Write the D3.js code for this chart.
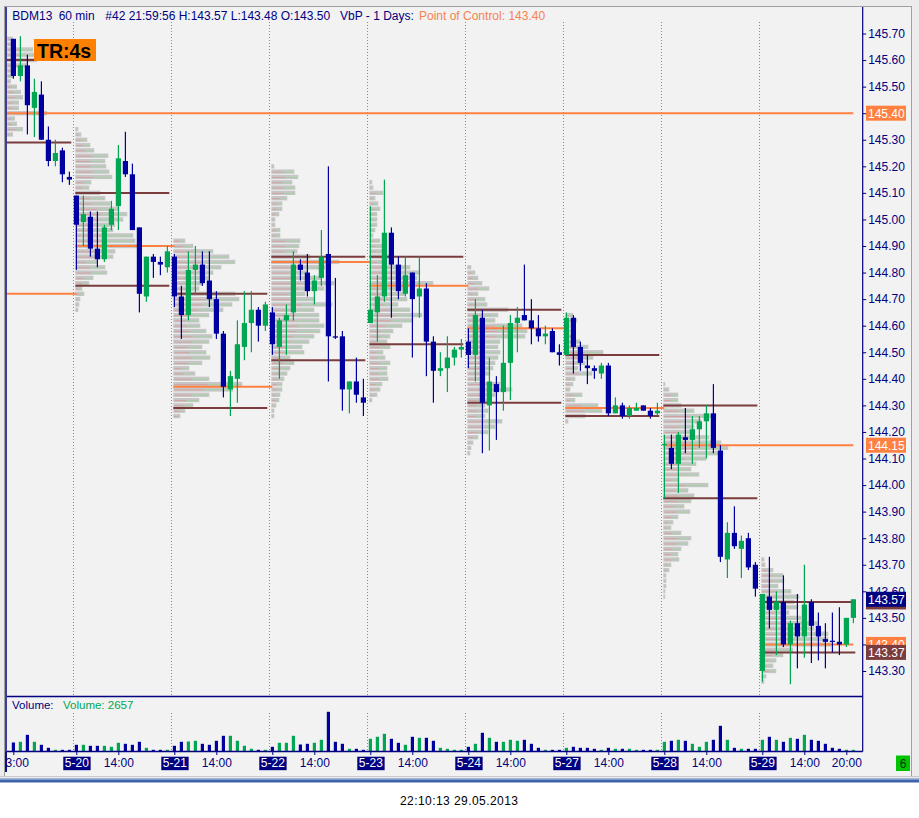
<!DOCTYPE html>
<html>
<head>
<meta charset="utf-8">
<script src="https://cdn.jsdelivr.net/npm/d3@7"></script>
<style>
body{margin:0;background:#fff;}
svg{display:block;font-family:"Liberation Sans",Arial,sans-serif;}
</style>
</head>
<body>
<svg id="chart" width="919" height="818"></svg>
<script>
//BDM13 60 min + volume profile
var dayLabels = ["5-17","5-20","5-21","5-22","5-23","5-24","5-27","5-28","5-29"];
var dayStarts = [-5, 9, 23, 37, 51, 65, 79, 93, 107]; // bar index of 08:00

// value area high / point of control / value area low, per day
var vahs = [145.60, 145.10, 144.72, 144.86, 144.86, 144.66, 144.49, 144.30, 143.56];
var pocs = [145.40, 144.90, 144.37, 144.84, 144.75, 144.59, 144.29, 144.15, 143.40];
var vals = [145.29, 144.75, 144.29, 144.47, 144.53, 144.31, 144.26, 143.95, 143.37];
var pocEnds = [120, 23, 37, 51, 65, 79, 93, 120, 120];
var priorPoc = [144.72, -5, 9];

var priceTicks = [143.30,143.40,143.50,143.60,143.70,143.80,143.90,144.00,144.10,144.20,144.30,144.40,144.50,
	144.60,144.70,144.80,144.90,145.00,145.10,145.20,145.30,145.40,145.50,145.60,145.70];
var hourTicks = [[0,"13:00"],[15,"14:00"],[29,"14:00"],[43,"14:00"],[57,"14:00"],[71,"14:00"],[85,"14:00"],[99,"14:00"],[113,"14:00"],[119,"20:00"]];

// open, high, low, close
var ohlc = [
	// 5-17
	[145.68,145.68,145.53,145.54],[145.54,145.69,145.52,145.58],[145.58,145.62,145.32,145.43],[145.42,145.53,145.31,145.48],[145.47,145.52,145.30,145.30],[145.30,145.35,145.20,145.22],[145.22,145.30,145.20,145.25],[145.26,145.27,145.14,145.17],[145.16,145.18,145.13,145.15],
	// 5-20
	[145.09,145.09,144.81,144.98],[144.99,145.09,144.90,145.02],[145.01,145.03,144.86,144.89],[144.89,145.03,144.82,144.85],[144.85,144.98,144.84,144.97],[144.98,145.07,144.96,145.04],[145.05,145.28,144.96,145.23],[145.22,145.33,145.16,145.17],[145.17,145.21,144.96,144.96],[144.97,144.97,144.65,144.72],[144.71,144.86,144.69,144.86],[144.86,144.87,144.78,144.84],[144.84,144.86,144.79,144.83],[144.82,144.90,144.80,144.88],
	// 5-21
	[144.86,144.87,144.67,144.71],[144.71,144.75,144.55,144.64],[144.64,144.88,144.62,144.81],[144.81,144.90,144.72,144.83],[144.83,144.88,144.75,144.76],[144.77,144.88,144.67,144.70],[144.70,144.73,144.55,144.57],[144.57,144.58,144.33,144.37],[144.36,144.43,144.26,144.41],[144.40,144.62,144.31,144.53],[144.52,144.73,144.47,144.61],[144.61,144.73,144.50,144.66],[144.66,144.67,144.54,144.60],[144.60,144.69,144.58,144.68],
	// 5-22
	[144.65,144.67,144.49,144.53],[144.52,144.63,144.40,144.62],[144.62,144.68,144.49,144.64],[144.65,144.88,144.62,144.83],[144.83,144.85,144.77,144.81],[144.80,144.87,144.71,144.73],[144.73,144.79,144.68,144.77],[144.78,144.96,144.75,144.86],[144.87,145.20,144.39,144.56],[144.56,144.78,144.55,144.555],[144.56,144.58,144.28,144.36],[144.36,144.39,144.27,144.39],[144.39,144.48,144.31,144.34],[144.33,144.40,144.26,144.31],
	// 5-23
	[144.61,145.05,144.61,144.66],[144.65,144.79,144.54,144.71],[144.71,145.15,144.69,144.95],[144.95,144.97,144.63,144.83],[144.83,144.86,144.70,144.73],[144.72,144.86,144.71,144.79],[144.80,144.80,144.48,144.70],[144.71,144.86,144.63,144.74],[144.74,144.76,144.41,144.54],[144.54,144.56,144.31,144.43],[144.43,144.50,144.41,144.44],[144.44,144.56,144.35,144.48],[144.48,144.52,144.45,144.51],[144.51,144.55,144.48,144.52],
	// 5-24
	[144.54,144.59,144.44,144.49],[144.49,144.70,144.39,144.64],[144.63,144.66,144.12,144.31],[144.30,144.48,144.13,144.39],[144.38,144.41,144.17,144.35],[144.35,144.60,144.28,144.46],[144.46,144.64,144.32,144.61],[144.61,144.67,144.50,144.63],[144.64,144.83,144.62,144.62],[144.62,144.70,144.53,144.59],[144.59,144.64,144.54,144.56],[144.56,144.60,144.53,144.57],[144.58,144.59,144.50,144.50],[144.50,144.53,144.45,144.49],
	// 5-27
	[144.49,144.65,144.49,144.63],[144.63,144.64,144.42,144.52],[144.52,144.54,144.43,144.46],[144.45,144.49,144.38,144.44],[144.44,144.45,144.40,144.43],[144.42,144.46,144.40,144.45],[144.45,144.46,144.26,144.27],[144.27,144.33,144.27,144.30],[144.30,144.31,144.25,144.26],[144.26,144.30,144.25,144.29],[144.28,144.31,144.28,144.29],[144.30,144.30,144.28,144.28],[144.28,144.29,144.25,144.26],[144.27,144.31,144.26,144.28],
	// 5-28
	[144.15,144.19,143.95,144.155],[144.14,144.19,144.06,144.08],[144.08,144.20,143.97,144.19],[144.18,144.29,144.12,144.17],[144.17,144.26,144.08,144.21],[144.21,144.26,144.14,144.24],[144.24,144.30,144.10,144.27],[144.27,144.38,144.12,144.14],[144.13,144.15,143.71,143.73],[143.72,143.86,143.65,143.82],[143.82,143.92,143.76,143.77],[143.76,143.81,143.65,143.79],[143.80,143.82,143.68,143.69],[143.70,143.71,143.58,143.61],
	// 5-29
	[143.30,143.59,143.26,143.59],[143.58,143.73,143.46,143.53],[143.53,143.60,143.36,143.56],[143.56,143.66,143.39,143.40],[143.40,143.49,143.25,143.48],[143.48,143.59,143.31,143.43],[143.43,143.70,143.35,143.55],[143.56,143.57,143.33,143.47],[143.47,143.52,143.34,143.43],[143.42,143.48,143.31,143.41],[143.414,143.52,143.37,143.41],[143.41,143.54,143.36,143.40],[143.40,143.50,143.39,143.50],[143.50,143.57,143.48,143.57]
];

var volumes = [
	14040,15130,26050,15130,10450,5770,2650,2650,2650,
	10450,10450,8890,8890,8890,7330,13570,12010,10450,15130,5770,2650,2650,2650,
	8890,15130,15600,16690,12010,10450,16690,24490,24490,16690,8890,4210,2650,2650,
	7330,13570,13570,24490,10920,12010,13570,18250,61930,15130,12010,4210,4210,2650,
	19810,22930,27610,19810,13570,10450,22930,21370,21370,16690,5770,4210,2650,2650,
	7330,12010,29170,21370,15130,15130,18250,16690,18250,12010,5770,2650,2650,2650,
	5770,7330,5770,5770,4210,2650,5770,4210,4210,4210,2650,2650,2650,2650,
	15130,16690,18250,16690,12010,7330,15130,18250,40090,18250,5770,4210,4210,4210,
	18250,22930,18250,15130,21370,19810,26050,18250,16690,12010,5770,4210,2650,2657
];

// volume at price, [price, volume]
var prof0517 = [[145.68,6],[145.66,8],[145.64,26],[145.62,28],[145.60,30],[145.58,20],[145.56,8],[145.54,6],[145.52,4],[145.50,10],[145.48,14],[145.46,16],[145.44,12],[145.42,12],[145.40,40],[145.38,8],[145.36,10],[145.34,16],[145.32,6]];
var prof0520 = [[145.34,3],[145.32,6],[145.30,12],[145.28,15],[145.26,19],[145.24,33],[145.22,30],[145.20,31],[145.18,34],[145.16,37],[145.14,16],[145.12,14],[145.10,25],[145.08,30],[145.06,35],[145.04,44],[145.02,52],[145.00,48],[144.98,40],[144.96,38],[144.94,58],[144.92,60],[144.90,62],[144.88,40],[144.86,38],[144.84,22],[144.82,30],[144.80,32],[144.78,18],[144.76,14],[144.74,7],[144.72,9],[144.70,5],[144.68,4],[144.66,3]];
var prof0521 = [[144.92,12],[144.90,20],[144.88,40],[144.86,56],[144.84,62],[144.82,48],[144.80,40],[144.78,36],[144.76,29],[144.74,26],[144.72,62],[144.70,66],[144.68,59],[144.66,50],[144.64,36],[144.62,26],[144.60,27],[144.58,33],[144.56,39],[144.54,36],[144.52,29],[144.50,33],[144.48,37],[144.46,29],[144.44,16],[144.42,22],[144.40,36],[144.38,69],[144.36,60],[144.34,36],[144.32,26],[144.30,20],[144.28,12],[144.26,7]];
var prof0522 = [[145.20,3],[145.18,23],[145.16,27],[145.14,21],[145.12,24],[145.10,24],[145.08,16],[145.06,11],[145.04,11],[145.02,8],[145.00,4],[144.98,4],[144.96,9],[144.94,9],[144.92,29],[144.90,28],[144.88,26],[144.86,39],[144.84,68],[144.82,54],[144.80,36],[144.78,50],[144.76,63],[144.74,53],[144.72,34],[144.70,43],[144.68,61],[144.66,43],[144.64,48],[144.62,48],[144.60,53],[144.58,49],[144.56,43],[144.54,38],[144.52,31],[144.50,33],[144.48,19],[144.46,23],[144.44,19],[144.42,16],[144.40,13],[144.38,11],[144.36,11],[144.34,9],[144.32,8],[144.30,5],[144.28,3],[144.26,3]];
var prof0523 = [[145.14,3],[145.12,4],[145.10,14],[145.08,6],[145.06,9],[145.04,11],[145.02,8],[145.00,8],[144.98,8],[144.96,6],[144.94,4],[144.92,11],[144.90,13],[144.88,13],[144.86,24],[144.84,16],[144.82,41],[144.80,51],[144.78,48],[144.76,64],[144.74,34],[144.72,36],[144.70,38],[144.68,29],[144.66,41],[144.64,53],[144.62,44],[144.60,33],[144.58,24],[144.56,21],[144.54,18],[144.52,21],[144.50,14],[144.48,16],[144.46,21],[144.44,18],[144.42,18],[144.40,19],[144.38,13],[144.36,11],[144.34,8],[144.32,3]];
var prof0524 = [[144.82,4],[144.80,8],[144.78,11],[144.76,15],[144.74,22],[144.72,11],[144.70,18],[144.68,20],[144.66,41],[144.64,31],[144.62,28],[144.60,55],[144.58,60],[144.56,58],[144.54,33],[144.52,31],[144.50,33],[144.48,31],[144.46,28],[144.44,26],[144.42,23],[144.40,18],[144.38,33],[144.36,45],[144.34,28],[144.32,21],[144.30,18],[144.28,21],[144.26,18],[144.24,35],[144.22,28],[144.20,21],[144.18,11],[144.16,6],[144.14,4],[144.12,3]];
var prof0527 = [[144.64,8],[144.62,12],[144.60,5],[144.58,5],[144.56,10],[144.54,15],[144.52,23],[144.50,38],[144.48,28],[144.46,20],[144.44,13],[144.42,27],[144.40,10],[144.38,8],[144.36,5],[144.34,17],[144.32,10],[144.30,33],[144.28,37],[144.26,20],[144.24,3]];
var prof0528 = [[144.38,2],[144.36,6],[144.34,15],[144.32,15],[144.30,18],[144.28,31],[144.26,53],[144.24,38],[144.22,31],[144.20,28],[144.18,46],[144.16,58],[144.14,65],[144.12,60],[144.10,43],[144.08,33],[144.06,28],[144.04,36],[144.02,16],[144.00,45],[143.98,25],[143.96,31],[143.94,28],[143.92,21],[143.90,27],[143.88,15],[143.86,10],[143.84,8],[143.82,18],[143.80,28],[143.78,25],[143.76,18],[143.74,15],[143.72,16],[143.70,8],[143.68,6],[143.66,3],[143.64,3],[143.62,3],[143.60,2],[143.58,2]];
var prof0529 = [[143.72,3],[143.70,4],[143.68,12],[143.66,22],[143.64,23],[143.62,17],[143.60,30],[143.58,38],[143.56,33],[143.54,37],[143.52,28],[143.50,40],[143.48,57],[143.46,53],[143.44,67],[143.42,67],[143.40,70],[143.38,32],[143.36,22],[143.34,15],[143.32,12],[143.30,15],[143.28,5],[143.26,3]];
var profileList = [prof0517, prof0520, prof0521, prof0522, prof0523, prof0524, prof0527, prof0528, prof0529];

var ChartWidget = {
	settings: {
		left: 7, top: 7, right: 862.7, priceBottom: 696.5, volBottom: 751.5,
		blue: "#0000a0", green: "#00a651", navy: "#000080",
		brown: "#7a3c3c", orange: "#ff8040", gray: "#c6c6c6"
	},
	init: function(){
		var s = this.settings;
		this.svg = d3.select("#chart");
		this.x = d3.scaleLinear().domain([0, 120]).range([13.3, 853.3]);
		this.y = d3.scaleLinear().domain([143.30, 145.70]).range([671, 33.5]);
		this.yv = d3.scaleLinear().domain([0, 85000]).range([s.volBottom, s.volBottom - 54.5]);
		this.pw = d3.scaleLinear().domain([0, 100]).range([0, 100]);

		var defs = this.svg.append("defs");
		defs.append("clipPath").attr("id", "priceClip").append("rect")
			.attr("x", s.left).attr("y", s.top).attr("width", s.right - s.left).attr("height", s.priceBottom - s.top);
		defs.append("clipPath").attr("id", "axisClip").append("rect")
			.attr("x", s.left).attr("y", s.volBottom).attr("width", 900).attr("height", 30);

		this.drawFrame();
		this.generateProfiles();
		this.generateLines();
		this.generateCandles();
		this.generateVolume();
		this.generateAxis();
		this.generateLabels();
	},
	drawFrame: function(){
		var s = this.settings, svg = this.svg;
		svg.append("rect").attr("width", 919).attr("height", 779).attr("fill", "#ececec");
		svg.append("rect").attr("x", 5).attr("y", 7).attr("width", 907).attr("height", 769).attr("fill", "#f2f2f2");
		svg.append("rect").attr("y", 779).attr("width", 919).attr("height", 39).attr("fill", "#ffffff");
		// window edges
		svg.append("line").attr("x1", 4).attr("x2", 912).attr("y1", 6.5).attr("y2", 6.5).attr("stroke", "#a0a0a0");
		svg.append("line").attr("x1", 4.5).attr("x2", 4.5).attr("y1", 7).attr("y2", 776).attr("stroke", "#a0a0a0");
		svg.append("line").attr("x1", 6).attr("x2", 6).attr("y1", 7).attr("y2", 772).attr("stroke", s.navy).attr("stroke-width", 1.5);
		svg.append("line").attr("x1", 911.5).attr("x2", 911.5).attr("y1", 7).attr("y2", 776).attr("stroke", "#a0a0a0");
		svg.append("line").attr("x1", 0).attr("x2", 919).attr("y1", 776.5).attr("y2", 776.5).attr("stroke", "#c8c8c8");
		svg.append("rect").attr("y", 778).attr("width", 919).attr("height", 1.5).attr("fill", "#9fb3d6");
		svg.append("rect").attr("y", 779.5).attr("width", 919).attr("height", 3).attr("fill", "#3d63a8");

		// day separators
		var x = this.x;
		svg.selectAll(".sep").data(dayStarts.slice(1)).enter().append("line")
			.attr("class", "sep")
			.attr("x1", function(d){ return Math.round(x(d) - 3) + 0.5; })
			.attr("x2", function(d){ return Math.round(x(d) - 3) + 0.5; })
			.attr("y1", 22).attr("y2", s.priceBottom)
			.attr("stroke", "#8a8a8a").attr("stroke-dasharray", "1,2");
		svg.selectAll(".vsep").data(dayStarts.slice(1)).enter().append("line")
			.attr("class", "vsep")
			.attr("x1", function(d){ return Math.round(x(d) - 3) + 0.5; })
			.attr("x2", function(d){ return Math.round(x(d) - 3) + 0.5; })
			.attr("y1", 713).attr("y2", s.volBottom)
			.attr("stroke", "#8a8a8a").attr("stroke-dasharray", "1,2");
	},
	generateProfiles: function(){
		var s = this.settings, x = this.x, y = this.y, pw = this.pw;
		var g = this.svg.append("g").attr("clip-path", "url(#priceClip)");
		profileList.forEach(function(prof, d){
			var x0 = Math.max(s.left, x(dayStarts[d]) - 1);
			var pg = g.append("g");
			pg.selectAll("rect").data(prof).enter().append("rect")
				.attr("x", x0)
				.attr("y", function(p){ return y(p[0] + 0.01) + 0.5; })
				.attr("width", function(p){ return pw(p[1]); })
				.attr("height", function(p){ return y(p[0] - 0.01) - y(p[0] + 0.01) - 1; })
				.attr("fill", s.gray);
			// sell / buy stripes
			pg.selectAll(".sell").data(prof).enter().append("line")
				.attr("x1", x0 + 1)
				.attr("x2", function(p){ return x0 + Math.max(1, pw(p[1]) * 0.5); })
				.attr("y1", function(p){ return y(p[0]) + 0.5; })
				.attr("y2", function(p){ return y(p[0]) + 0.5; })
				.attr("stroke", "#d4a2a2");
			pg.selectAll(".buy").data(prof).enter().append("line")
				.attr("x1", function(p){ return x0 + pw(p[1]) * 0.5; })
				.attr("x2", function(p){ return x0 + Math.max(1, pw(p[1]) - 1); })
				.attr("y1", function(p){ return y(p[0]) + 0.5; })
				.attr("y2", function(p){ return y(p[0]) + 0.5; })
				.attr("stroke", "#a6d0a6");
		});
	},
	generateLines: function(){
		var s = this.settings, x = this.x, y = this.y;
		var g = this.svg.append("g").attr("clip-path", "url(#priceClip)");
		var x0 = function(d){ return Math.max(s.left, x(dayStarts[d]) - 1); };
		var xEnd = function(d){ return x(dayStarts[d] + 13) + 2; };

		g.append("line").attr("x1", s.left).attr("x2", x(priorPoc[2]))
			.attr("y1", y(priorPoc[0])).attr("y2", y(priorPoc[0]))
			.attr("stroke", s.orange).attr("stroke-width", 2);

		[vahs, vals].forEach(function(arr){
			g.selectAll(null).data(arr).enter().append("line")
				.attr("x1", function(v, d){ return x0(d); })
				.attr("x2", function(v, d){ return xEnd(d); })
				.attr("y1", function(v){ return y(v); })
				.attr("y2", function(v){ return y(v); })
				.attr("stroke", s.brown).attr("stroke-width", 2);
		});
		g.selectAll(null).data(pocs).enter().append("line")
			.attr("x1", function(v, d){ return x0(d); })
			.attr("x2", function(v, d){ return x(pocEnds[d]); })
			.attr("y1", function(v){ return y(v); })
			.attr("y2", function(v){ return y(v); })
			.attr("stroke", s.orange).attr("stroke-width", 2);
	},
	generateCandles: function(){
		var s = this.settings, x = this.x, y = this.y;
		var g = this.svg.append("g").attr("clip-path", "url(#priceClip)");
		var col = function(d){ return d[3] > d[0] ? s.green : s.blue; };
		g.selectAll(".wick").data(ohlc).enter().append("rect")
			.attr("x", function(d, i){ return x(i) - 0.5; })
			.attr("y", function(d){ return y(d[1]); })
			.attr("width", 1.2)
			.attr("height", function(d){ return Math.max(1, y(d[2]) - y(d[1])); })
			.attr("fill", col);
		g.selectAll(".body").data(ohlc).enter().append("rect")
			.attr("x", function(d, i){ return x(i) - 2.5; })
			.attr("y", function(d){ return y(Math.max(d[0], d[3])); })
			.attr("width", 5.2)
			.attr("height", function(d){ return Math.max(1.2, Math.abs(y(d[0]) - y(d[3]))); })
			.attr("fill", col);
	},
	generateVolume: function(){
		var s = this.settings, x = this.x, yv = this.yv;
		var svg = this.svg;
		svg.selectAll(".vol").data(volumes).enter().append("rect")
			.attr("class", "vol")
			.attr("x", function(d, i){ return x(i) - 1.5; })
			.attr("y", function(d){ return yv(d); })
			.attr("width", 3.2)
			.attr("height", function(d){ return s.volBottom - yv(d); })
			.attr("fill", function(d, i){ return ohlc[i][3] > ohlc[i][0] ? s.green : s.blue; });

		svg.append("text").attr("x", 12).attr("y", 708.5).attr("font-size", 11.5)
			.attr("fill", s.navy).text("Volume:");
		svg.append("text").attr("x", 63).attr("y", 708.5).attr("font-size", 11.5)
			.attr("fill", s.green).text("Volume: " + volumes[volumes.length - 1]);
	},
	generateAxis: function(){
		var s = this.settings, x = this.x, y = this.y, svg = this.svg;
		// panel borders
		svg.append("line").attr("x1", s.left).attr("x2", s.right).attr("y1", s.priceBottom).attr("y2", s.priceBottom)
			.attr("stroke", s.navy).attr("stroke-width", 1.5);
		svg.append("line").attr("x1", s.left).attr("x2", s.right).attr("y1", s.volBottom).attr("y2", s.volBottom)
			.attr("stroke", s.navy).attr("stroke-width", 1.5);
		svg.append("line").attr("x1", s.right).attr("x2", s.right).attr("y1", s.top).attr("y2", s.volBottom)
			.attr("stroke", s.navy).attr("stroke-width", 1.2);

		var yAxis = svg.append("g").attr("transform", "translate(" + s.right + ",0)")
			.call(d3.axisRight(y).tickValues(priceTicks).tickFormat(d3.format(".2f")).tickSize(3.5).tickPadding(2));
		yAxis.select(".domain").remove();
		yAxis.selectAll("line").attr("stroke", s.navy);
		yAxis.selectAll("text").attr("fill", s.navy).attr("font-size", 12)
			.attr("font-family", "Liberation Sans, Arial, sans-serif");

		// time axis: hours and dates
		var ticks = hourTicks.map(function(t){ return {i: t[0], text: t[1], date: false}; });
		dayLabels.forEach(function(lbl, d){
			if(dayStarts[d] >= 0) ticks.push({i: dayStarts[d], text: lbl, date: true});
		});
		var byIdx = {};
		ticks.forEach(function(t){ byIdx[t.i] = t; });
		var xAxis = svg.append("g").attr("transform", "translate(0," + s.volBottom + ")")
			.attr("clip-path", "url(#axisClip)")
			.call(d3.axisBottom(x).tickValues(ticks.map(function(t){ return t.i; }))
				.tickFormat(function(i){ return byIdx[i].text; }).tickSize(3.5).tickPadding(3));
		xAxis.attr("clip-path", null);
		xAxis.select(".domain").remove();
		xAxis.selectAll("line").attr("stroke", s.navy);
		xAxis.selectAll("text").attr("fill", s.navy).attr("font-size", 12)
			.attr("font-family", "Liberation Sans, Arial, sans-serif");
		xAxis.selectAll(".tick").each(function(i){
			var t = byIdx[i];
			var tick = d3.select(this);
			if(t.date){
				var txt = tick.select("text").attr("fill", "#ffffff");
				var bb = txt.node().getBBox();
				tick.insert("rect", "text").attr("x", bb.x - 1.5).attr("y", 5.2)
					.attr("width", bb.width + 3).attr("height", 13.5).attr("fill", s.navy);
			}
		});
		// clip hour labels that run off the left edge
		svg.append("rect").attr("x", 0).attr("y", s.volBottom + 1).attr("width", 5).attr("height", 20).attr("fill", "#ececec");
		svg.append("line").attr("x1", 4.5).attr("x2", 4.5).attr("y1", s.volBottom).attr("y2", 776).attr("stroke", "#a0a0a0");
		svg.append("line").attr("x1", 6).attr("x2", 6).attr("y1", s.volBottom).attr("y2", 772).attr("stroke", s.navy).attr("stroke-width", 1.5);
	},
	generateLabels: function(){
		var s = this.settings, y = this.y, svg = this.svg;
		var last = ohlc[ohlc.length - 1];
		var n = pocs.length - 1;
		var markers = [
			[pocs[0], s.orange], [pocs[7], s.orange],
			[vahs[n], s.brown], [last[3], s.navy],
			[pocs[n], s.orange], [vals[n], s.brown]
		];
		var m = svg.selectAll(".marker").data(markers).enter().append("g")
			.attr("transform", function(d){ return "translate(866," + y(d[0]) + ")"; });
		m.append("rect").attr("x", 0).attr("y", -7.5).attr("width", 40).attr("height", 15)
			.attr("fill", function(d){ return d[1]; });
		m.append("text").attr("x", 2).attr("y", 4.5).attr("font-size", 12).attr("fill", "#ffffff")
			.text(function(d){ return d3.format(".2f")(d[0]); });

		// header
		var head = [[12.3, "BDM13", s.navy], [58.7, "60 min", s.navy],
			[105.3, "#42 21:59:56 H:" + d3.format(".2f")(last[1]) + " L:" + d3.format(".2f")(last[2]) + " O:" + d3.format(".2f")(last[0]), s.navy],
			[340, "VbP - 1 Days:", s.navy], [419, "Point of Control: " + d3.format(".2f")(pocs[n]), "#f5834f"]];
		svg.selectAll(".head").data(head).enter().append("text")
			.attr("x", function(d){ return d[0]; }).attr("y", 19.5)
			.attr("font-size", 12).attr("fill", function(d){ return d[2]; })
			.text(function(d){ return d[1]; });

		// TR box
		svg.append("rect").attr("x", 34).attr("y", 39).attr("width", 62).attr("height", 22).attr("fill", "#ff8000");
		svg.append("text").attr("x", 37).attr("y", 57.5).attr("font-size", 19.5).attr("font-weight", "bold")
			.attr("fill", "#000").text("TR:4s");

		// status box
		svg.append("rect").attr("x", 896).attr("y", 755.5).attr("width", 14).attr("height", 15.5).attr("fill", "#00c400");
		svg.append("text").attr("x", 903).attr("y", 767.5).attr("text-anchor", "middle").attr("font-size", 12)
			.attr("fill", "#003300").text("6");

		// timestamp
		svg.append("text").attr("x", 459).attr("y", 805).attr("text-anchor", "middle").attr("font-size", 12)
			.attr("fill", "#000").attr("textLength", 118).text("22:10:13 29.05.2013");
	}
};

ChartWidget.init();
</script>
</body>
</html>
